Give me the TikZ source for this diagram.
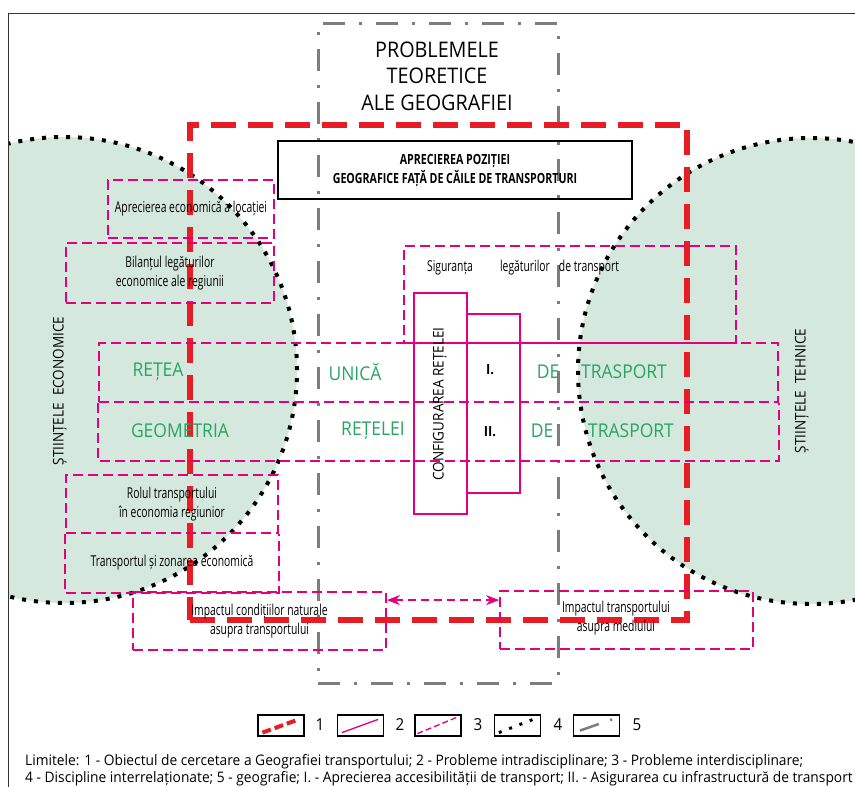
\documentclass[tikz,border=0pt]{standalone}
\usepackage{fontspec}
\setmainfont[FakeStretch=0.92]{Open Sans}
\newfontfamily\cond[FakeStretch=0.69]{Open Sans}
\newfontfamily\condb[FakeStretch=0.76]{Open Sans}
\newfontfamily\capf[FakeStretch=0.95]{Open Sans}
\usetikzlibrary{arrows.meta}
\definecolor{mag}{RGB}{228,0,124}
\definecolor{rd}{RGB}{232,28,36}
\definecolor{gr}{RGB}{125,125,125}
\definecolor{gtx}{RGB}{38,166,98}
\definecolor{mint}{RGB}{213,232,221}
\begin{document}
\begin{tikzpicture}[x=1pt,y=-1pt,
 pline/.style={draw=mag, line width=1.8pt, dash pattern=on 10pt off 5pt},
 pdash/.style={pline, inner sep=0pt, align=center},
 psolid/.style={draw=mag, line width=1.8pt, inner sep=0pt},
 rdash/.style={draw=rd, line width=5.5pt, dash pattern=on 25pt off 12pt, inner sep=0pt},
 gdash/.style={draw=gr, line width=3pt, dash pattern=on 22pt off 14pt on 3pt off 14pt, inner sep=0pt},
 dotc/.style={draw=black, line width=4pt, dash pattern=on 4pt off 8pt, fill=mint, circle, minimum size=466pt, inner sep=0pt},
 lbl/.style={font=\cond\fontsize{15}{19}\selectfont, align=center, inner sep=0pt},
 gtext/.style={font=\fontsize{19}{20}\selectfont, text=gtx, inner sep=0pt},
 bsz/.style n args={2}{minimum width=#1, minimum height=#2},
 legbox/.style={draw=black, line width=1.2pt, minimum width=46pt, minimum height=21pt, inner sep=0pt},
 legnum/.style={font=\fontsize{16.5}{18}\selectfont, inner sep=0pt},
 capt/.style={anchor=base west, font=\capf\fontsize{14.5}{17}\selectfont, inner sep=0pt}
]
\useasboundingbox (0,0) rectangle (855,787);
\fill[white] (0,0) rectangle (855,787);
% circles (interrelated disciplines)
\begin{scope}
\clip (8,13) rectangle (855,787);
\node[dotc] (cl) at (64,370) {};
\node[dotc] (cr) at (811,371) {};
\end{scope}
% frame
\draw[line width=1pt, black!80] (8,787) -- (8,13) -- (855,13);
% geography limit
\node[gdash, bsz={240pt}{660pt}] (geo) at (438,353) {};
% red limit
\node[rdash, bsz={497pt}{495pt}] (obj) at (438.5,372.5) {};
% title
\node[font=\fontsize{21.5}{26.5}\selectfont, align=center, inner sep=0pt] (title) at (437,76) {PROBLEMELE\\TEORETICE\\ALE GEOGRAFIEI};
% black box
\node[draw=black, line width=1.4pt, bsz={354pt}{58pt}, inner sep=0pt, align=center,
  font=\condb\bfseries\fontsize{14}{19}\selectfont] (apr) at (455,170) {APRECIEREA POZIȚIEI\\GEOGRAFICE FAȚĂ DE CĂILE DE TRANSPORTURI};
% pink dashed boxes
\node[pdash, bsz={166pt}{58pt}, lbl] (loc) at (191,209) {Aprecierea economică a locației};
\node[pdash, bsz={208pt}{60pt}, lbl] (bil) at (170,273) {Bilanțul legăturilor\\economice ale regiunii};
\node[pdash, bsz={332pt}{97pt}] (sig) at (570,294.5) {};
\node[pdash, bsz={679pt}{59pt}] (row1) at (438.5,372.5) {};
\node[pdash, bsz={679pt}{58pt}, draw=none] (row2) at (438.5,431) {};
\path[pline] (row1.south west) -- (row2.south west) -- (row2.south east) -- (row1.south east);
\node[pdash, bsz={212pt}{58pt}, lbl] (rol) at (172,504) {Rolul transportului\\în economia regiunior};
\node[pdash, bsz={212pt}{59pt}, lbl, draw=none] (zon) at (172,562.5) {Transportul și zonarea economică};
\path[pline] (rol.south west) -- (zon.south west) -- (zon.south east) -- (rol.south east);
\node[pdash, bsz={253pt}{58pt}, lbl] (impL) at (259.5,621) {Impactul condițiilor naturale\\asupra transportului};
\node[pdash, bsz={253pt}{58pt}] (impR) at (626.5,620) {};
\node[lbl] (impRt) at (616,618.5) {Impactul transportului\\asupra mediului};
\draw[draw=mag, line width=1.5pt, dash pattern=on 8pt off 5pt, {Stealth[length=13pt,width=10pt]}-{Stealth[length=13pt,width=10pt]}]
  ([yshift=-9pt]impL.north east) -- ([yshift=-10pt]impR.north west);
% siguranta texts
\node[lbl] (s1) at (450,268) {Siguranța};
\node[lbl] (s2) at (525,268) {legăturilor};
\node[lbl] (s3) at (589,268) {de transport};
% solid pink boxes
\node[psolid, bsz={53pt}{221pt}] (conf) at (440.5,403.5) {};
\node[psolid, bsz={53pt}{179pt}] (rom) at (493.5,403.5) {};
\node[rotate=90, font=\fontsize{14.7}{16}\selectfont, inner sep=0pt] (conft) at (440,404) {CONFIGURAREA REȚELEI};
\node[font=\bfseries\fontsize{14}{16}\selectfont, inner sep=0pt] (r1) at (490,370) {I.};
\node[font=\bfseries\fontsize{14}{16}\selectfont, inner sep=0pt] (r2) at (490,432) {II.};
% green texts
\node[gtext] (g1) at (158,372) {REȚEA};
\node[gtext] (g2) at (355,372) {UNICĂ};
\node[gtext] (g3) at (548,372) {DE};
\node[gtext] (g4) at (624,372) {TRASPORT};
\node[gtext] (g5) at (180,431) {GEOMETRIA};
\node[gtext] (g6) at (373,431) {REȚELEI};
\node[gtext] (g7) at (542,431) {DE};
\node[gtext] (g8) at (631,431) {TRASPORT};
% side labels
\node[rotate=90, font=\fontsize{14.7}{16}\selectfont, inner sep=0pt] (se) at (60,391) {ȘTIINȚELE\ \ ECONOMICE};
\node[rotate=90, font=\fontsize{14.7}{16}\selectfont, inner sep=0pt] (st) at (802,391) {ȘTIINȚELE\ \ TEHNICE};
% legend
\node[legbox] (L1) at (281,725.5) {};
\node[legbox] (L2) at (360.5,725.5) {};
\node[legbox] (L3) at (438,725.5) {};
\node[legbox] (L4) at (517.5,725.5) {};
\node[legbox] (L5) at (596.5,725.5) {};
\draw[rd, line width=4pt, dash pattern=on 9pt off 4pt] ([shift={(5,-4)}]L1.south west) -- ([shift={(-6,5)}]L1.north east);
\draw[draw=mag, line width=1.3pt] ([shift={(5,-4)}]L2.south west) -- ([shift={(-6,5)}]L2.north east);
\draw[draw=mag, line width=1.3pt, dash pattern=on 6pt off 3pt] ([shift={(3,-3)}]L3.south west) -- ([shift={(-5,3)}]L3.north east);
\draw[black, line width=3pt, dash pattern=on 3pt off 8pt] ([shift={(5,-4)}]L4.south west) -- ([shift={(-8,5)}]L4.north east);
\draw[gr, line width=2.5pt, dash pattern=on 20pt off 12pt on 2.5pt off 30pt] ([shift={(7,-6)}]L5.south west) -- ([shift={(-8,5)}]L5.north east);
\node[legnum] (n1) at (320,725) {1};
\node[legnum] (n2) at (400,725) {2};
\node[legnum] (n3) at (478,725) {3};
\node[legnum] (n4) at (558,725) {4};
\node[legnum] (n5) at (637,725) {5};
% caption
\node[capt] (cap1) at (25,765) {Limitele: 1 - Obiectul de cercetare a Geografiei transportului; 2 - Probleme intradisciplinare; 3 - Probleme interdisciplinare;};
\node[capt] (cap2) at (25,782) {4 - Discipline interrelaționate; 5 - geografie; I. - Aprecierea accesibilității de transport; II. - Asigurarea cu infrastructură de transport};
\end{tikzpicture}
\end{document}
